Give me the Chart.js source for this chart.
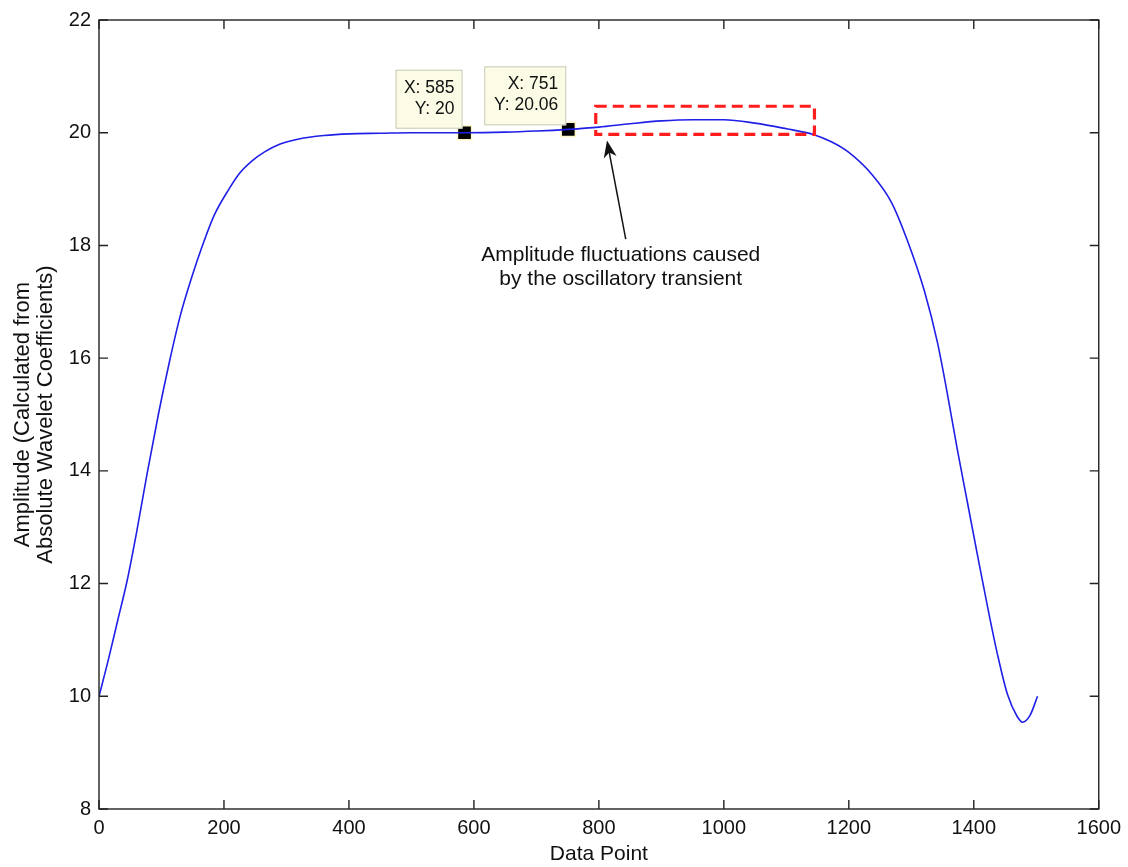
<!DOCTYPE html>
<html>
<head>
<meta charset="utf-8">
<script src="https://cdn.jsdelivr.net/npm/chart.js@4.4.1/dist/chart.umd.min.js"></script>
<style>
  html, body { margin: 0; background: #fff; }
  #wrap { width: 1128px; height: 867px; }
</style>
</head>
<body>
<div id="wrap"><canvas id="ampChart"></canvas></div>
<script>
// values
const pointX = [0, 15, 30, 45, 60, 77, 95, 113, 130, 148, 165, 185, 208, 225, 245, 265, 290, 320, 360, 400, 450, 500, 585, 650, 700, 751, 800, 850, 900, 950, 1000, 1050, 1100, 1143, 1172, 1199, 1237, 1268, 1294, 1321, 1342, 1358, 1374, 1390, 1406, 1422, 1438, 1454, 1469, 1478, 1490, 1502];
const amplitude = [10.0, 10.65, 11.35, 12.05, 12.9, 13.95, 15.0, 15.95, 16.75, 17.42, 17.98, 18.55, 19.0, 19.28, 19.5, 19.66, 19.8, 19.89, 19.95, 19.98, 19.99, 20.0, 20.0, 20.01, 20.03, 20.06, 20.1, 20.16, 20.21, 20.23, 20.23, 20.17, 20.07, 19.97, 19.84, 19.66, 19.26, 18.77, 18.08, 17.19, 16.27, 15.35, 14.36, 13.43, 12.5, 11.59, 10.74, 10.03, 9.65, 9.54, 9.66, 10.0];

const tipX = [585, 751];
const tipY = [20, 20.06];
const tipLabels = [['X: 585', 'Y: 20'], ['X: 751', 'Y: 20.06']];

const xTicks = [0, 200, 400, 600, 800, 1000, 1200, 1400, 1600];
const yTicks = [8, 10, 12, 14, 16, 18, 20, 22];

// highlighted region and arrow (data units)
const boxX = [795, 1145];
const boxY = [19.97, 20.47];
const arrowFrom = [843, 18.11];
const arrowTo = [813, 19.86];
const noteLines = ['Amplitude fluctuations caused', 'by the oscillatory transient'];

const FONT = 'Arial, "Liberation Sans", Helvetica, sans-serif';

const matlabFrame = {
  id: 'matlabFrame',
  afterDatasetsDraw(chart) {
    const { ctx, chartArea: a, scales: { x, y } } = chart;
    ctx.save();

    // red dashed box
    ctx.strokeStyle = '#ff1c1c';
    ctx.lineWidth = 3.2;
    ctx.setLineDash([11, 6]);
    const bx0 = x.getPixelForValue(boxX[0]), bx1 = x.getPixelForValue(boxX[1]);
    const by0 = y.getPixelForValue(boxY[1]), by1 = y.getPixelForValue(boxY[0]);
    ctx.strokeRect(bx0, by0, bx1 - bx0, by1 - by0);
    ctx.setLineDash([]);

    // arrow
    const ax0 = x.getPixelForValue(arrowFrom[0]), ay0 = y.getPixelForValue(arrowFrom[1]);
    const ax1 = x.getPixelForValue(arrowTo[0]), ay1 = y.getPixelForValue(arrowTo[1]);
    const ang = Math.atan2(ay1 - ay0, ax1 - ax0);
    const c = Math.cos(ang), s = Math.sin(ang);
    ctx.strokeStyle = '#111';
    ctx.lineWidth = 1.5;
    ctx.beginPath();
    ctx.moveTo(ax0, ay0);
    ctx.lineTo(ax1 - 10 * c, ay1 - 10 * s);
    ctx.stroke();
    ctx.fillStyle = '#111';
    ctx.beginPath();
    ctx.moveTo(ax1, ay1);
    ctx.lineTo(ax1 - 17 * c + 6.5 * s, ay1 - 17 * s - 6.5 * c);
    ctx.lineTo(ax1 - 12 * c, ay1 - 12 * s);
    ctx.lineTo(ax1 - 17 * c - 6.5 * s, ay1 - 17 * s + 6.5 * c);
    ctx.closePath();
    ctx.fill();

    // note text
    ctx.font = '21px ' + FONT;
    ctx.fillStyle = '#111';
    ctx.textAlign = 'center';
    ctx.textBaseline = 'middle';
    ctx.fillText(noteLines[0], ax0 - 5, ay0 + 16);
    ctx.fillText(noteLines[1], ax0 - 5, ay0 + 40);

    // data tips
    const meta = chart.getDatasetMeta(1);
    meta.data.forEach((pt, i) => {
      const w = i === 0 ? 67 : 82;
      const h = 59;
      const right = pt.x - 2, bottom = pt.y - 4;
      ctx.fillStyle = '#fbfbe6';
      ctx.strokeStyle = '#c8c8b8';
      ctx.lineWidth = 1;
      ctx.fillRect(right - w, bottom - h, w, h);
      ctx.strokeRect(right - w + 0.5, bottom - h + 0.5, w - 1, h - 1);
      ctx.fillStyle = '#111';
      ctx.font = '17.5px ' + FONT;
      ctx.textAlign = 'right';
      ctx.fillText(tipLabels[i][0], right - 8, bottom - 41);
      ctx.fillText(tipLabels[i][1], right - 8, bottom - 20);
    });

    // axes box with inward ticks
    ctx.strokeStyle = '#222';
    ctx.lineWidth = 1.4;
    ctx.strokeRect(a.left, a.top, a.right - a.left, a.bottom - a.top);
    ctx.beginPath();
    xTicks.forEach(v => {
      const px = x.getPixelForValue(v);
      ctx.moveTo(px, a.bottom); ctx.lineTo(px, a.bottom - 9);
      ctx.moveTo(px, a.top); ctx.lineTo(px, a.top + 9);
    });
    yTicks.forEach(v => {
      const py = y.getPixelForValue(v);
      ctx.moveTo(a.left, py); ctx.lineTo(a.left + 9, py);
      ctx.moveTo(a.right, py); ctx.lineTo(a.right - 9, py);
    });
    ctx.stroke();
    ctx.restore();
  }
};

new Chart(document.getElementById('ampChart'), {
  type: 'scatter',
  data: {
    datasets: [{
      data: pointX.map((v, i) => ({ x: v, y: amplitude[i] })),
      showLine: true,
      borderColor: '#1f1fe8',
      borderWidth: 1.6,
      pointRadius: 0,
      cubicInterpolationMode: 'monotone'
    }, {
      data: tipX.map((v, i) => ({ x: v, y: tipY[i] })),
      pointStyle: 'rect',
      pointRadius: 10,
      backgroundColor: '#000',
      borderColor: '#fff7c8',
      borderWidth: 1.5
    }]
  },
  options: {
    responsive: true,
    maintainAspectRatio: false,
    animation: false,
    layout: { padding: { left: 0, top: 17, right: 27, bottom: 0 } },
    plugins: { legend: { display: false }, tooltip: { enabled: false } },
    scales: {
      x: {
        type: 'linear', min: 0, max: 1600,
        afterBuildTicks: s => { s.ticks = xTicks.map(v => ({ value: v })); },
        afterFit: s => { s.height = 58; },
        grid: { display: false, drawTicks: false },
        border: { display: false },
        ticks: { color: '#111', padding: 7, maxRotation: 0, callback: v => String(v), font: { family: FONT, size: 20 } },
        title: { display: true, text: 'Data Point', color: '#111', padding: { top: 0, bottom: 0.5 }, font: { family: FONT, size: 21 } }
      },
      y: {
        type: 'linear', min: 8, max: 22,
        afterBuildTicks: s => { s.ticks = yTicks.map(v => ({ value: v })); },
        afterFit: s => { s.width = 99; },
        grid: { display: false, drawTicks: false },
        border: { display: false },
        ticks: { color: '#111', padding: 8, callback: v => String(v), font: { family: FONT, size: 20 } },
        title: {
          display: true,
          text: ['Amplitude (Calculated from', 'Absolute Wavelet Coefficients)'],
          color: '#111', padding: { top: 11.5, bottom: 0 },
          font: { family: FONT, size: 22, lineHeight: 1.05 }
        }
      }
    }
  },
  plugins: [matlabFrame]
});
</script>
</body>
</html>
